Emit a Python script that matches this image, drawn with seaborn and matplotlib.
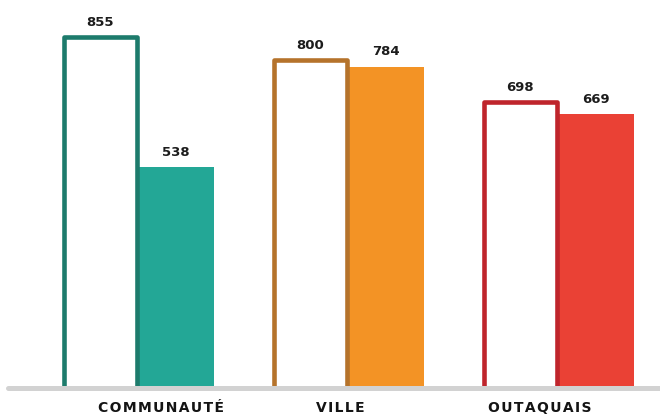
import matplotlib
matplotlib.use("Agg")
import matplotlib.pyplot as plt
import matplotlib.transforms as mtransforms
import seaborn as sns
import pandas as pd

# Data
zones = ["COMMUNAUTÉ", "VILLE", "OUTAQUAIS"]
serie_contour = [855, 800, 698]
serie_pleine = [538, 784, 669]

# Colours per zone: darker edge for the outlined bar, brighter fill for the solid bar
couleurs_contour = ["#1d7b6c", "#b5732b", "#bf252c"]
couleurs_pleines = ["#23a796", "#f39325", "#ea4135"]

df = pd.DataFrame({
    "zone": zones * 2,
    "valeur": serie_contour + serie_pleine,
    "série": ["contour"] * len(zones) + ["pleine"] * len(zones),
})

sns.set_theme(style="white")
plt.rcParams["font.family"] = ["DejaVu Sans"]

fig = plt.figure(figsize=(6.6, 4.16), dpi=100)
ax = fig.add_axes([0, 28 / 416, 1, 388 / 416])

sns.barplot(data=df, x="zone", y="valeur", hue="série", order=zones,
            hue_order=["contour", "pleine"], width=0.72, dodge=True,
            legend=False, ax=ax, saturation=1)

px = 1 / 210  # data units per pixel along x
cont_bars, full_bars = ax.containers[0], ax.containers[1]
for bar, c in zip(cont_bars, couleurs_contour):
    bar.set_facecolor("white")
    bar.set_edgecolor(c)
    bar.set_linewidth(3.3)
    bar.set_joinstyle("round")
    bar.set_x(bar.get_x() + 1.2 * px)
    bar.set_width(bar.get_width() - 2.4 * px)
    bar.set_zorder(3)
for bar, c in zip(full_bars, couleurs_pleines):
    bar.set_facecolor(c)
    bar.set_edgecolor("none")
    bar.set_linewidth(0)
    bar.set_zorder(2)

# Value labels above each bar
for cont in (cont_bars, full_bars):
    for bar in cont:
        h = bar.get_height()
        ax.annotate(f"{h:.0f}", (bar.get_x() + bar.get_width() / 2, h),
                    xytext=(0, 8), textcoords="offset points",
                    ha="center", va="baseline", fontsize=9.5,
                    fontweight="bold", color="#1c1c1c", zorder=5)

ax.set_xlim(-138 / 210, 522 / 210)
ax.set_ylim(0, 388 / 0.41)

# Grey baseline
ax.axhline(0, xmin=8 / 660, xmax=1, color="#d2d2d2", lw=3.6,
           zorder=4, clip_on=False)

# Spaced-out category labels
ax.set_xticks(range(len(zones)))
ax.set_xticklabels(["\u200a".join(z) for z in zones], fontsize=10,
                   fontweight="bold", color="#141414")
ax.tick_params(axis="x", length=0, pad=9.5)
decalage_px = [23.5, -7.5, -18.5]
for lab, d in zip(ax.get_xticklabels(), decalage_px):
    lab.set_transform(lab.get_transform() +
                      mtransforms.ScaledTranslation(d / 100, 0, fig.dpi_scale_trans))

ax.set_yticks([])
ax.set_xlabel("")
ax.set_ylabel("")
for s in ax.spines.values():
    s.set_visible(False)

fig.savefig("out.png", dpi=100, facecolor="white")
